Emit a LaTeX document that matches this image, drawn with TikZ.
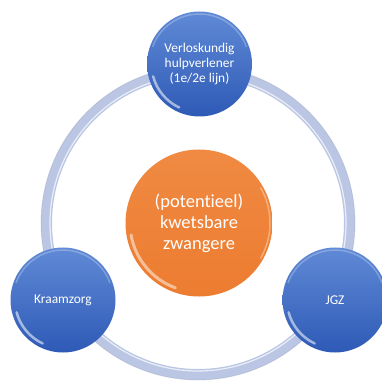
\documentclass[tikz,border=0pt]{standalone}
\usepackage{fontspec}
\setmainfont[Ligatures=NoCommon]{Carlito}
\definecolor{balltop}{RGB}{96,138,214}
\definecolor{ballbot}{RGB}{46,90,182}
\definecolor{orangeA}{RGB}{236,124,48}
\definecolor{orangeTop}{RGB}{240,138,66}
\definecolor{ringcol}{RGB}{186,198,228}
\tikzset{
  ball/.style={circle, minimum size=105pt, inner sep=0pt, shading=axis,
    top color=balltop, bottom color=ballbot, text=white, align=center,
    font=\fontsize{13.4}{14.6}\selectfont,
    path picture={
      \draw[white, opacity=0.55, line width=2.5pt, line cap=round]
        (path picture bounding box.center) ++(195:48pt) arc[start angle=195, end angle=245, radius=48pt];
      \draw[white, opacity=0.25, line width=1.5pt]
        (path picture bounding box.center) ++(20:50pt) arc[start angle=20, end angle=160, radius=50pt];
    }},
  hub/.style={circle, minimum size=147pt, inner sep=0pt, shading=axis,
    top color=orangeTop, bottom color=orangeA, text=white, align=center,
    font=\fontsize{18.5}{21}\selectfont,
    path picture={
      \draw[white, opacity=0.5, line width=3pt, line cap=round]
        (path picture bounding box.center) ++(190:69pt) arc[start angle=190, end angle=250, radius=69pt];
      \draw[white, opacity=0.35, line width=1.5pt]
        (path picture bounding box.center) ++(-30:71pt) arc[start angle=-30, end angle=30, radius=71pt];
    }},
  ringstyle/.style={circle, minimum size=303pt, inner sep=0pt, draw=ringcol, line width=11pt}
}
\begin{document}
\begin{tikzpicture}[x=1pt,y=1pt]
\useasboundingbox (0,0) rectangle (382,380);
\node[ringstyle] (ring) at (198,157) {};
\draw[white, opacity=0.7, line width=1.2pt] (ring.center) circle[radius=148pt];
\draw[ringcol!70!black, opacity=0.25, line width=0.8pt] (ring.center) circle[radius=157pt];
\node[hub] (hub) at (199,157) {(potentieel)\\kwetsbare\\zwangere};
\node[ball] (top) at (199.5,316) {Verloskundig\\hulpverlener\\(1e/2e lijn)};
\node[ball] (left) at (63,80) {\raisebox{-1.5pt}{Kraamzorg}};
\node[ball] (right) at (335,80) {\raisebox{-1.5pt}{JGZ}};
\end{tikzpicture}
\end{document}
